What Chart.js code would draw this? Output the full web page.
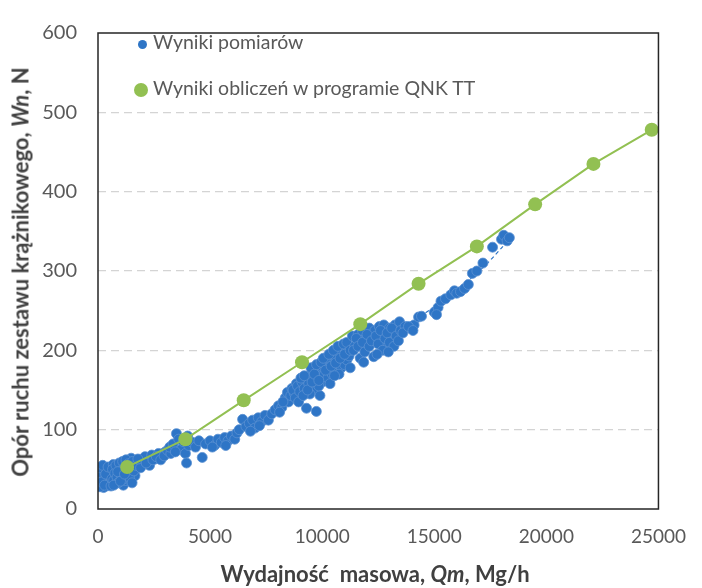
<!DOCTYPE html>
<html>
<head>
<meta charset="utf-8">
<script src="https://cdn.jsdelivr.net/npm/chart.js@4"></script>
<style>
    html, body { margin: 0; padding: 0; background: #fff; }
    #wrap { position: relative; width: 702px; height: 588px; font-family: Lato, "Liberation Sans", sans-serif; }
    #chart { position: absolute; left: 0; top: 0; }
    .legend { position: absolute; left: 134px; color: #595959; font-size: 19.5px; white-space: nowrap; }
    .legend .dot { display: inline-block; border-radius: 50%; vertical-align: middle; margin-right: 5px; }
    .ytitle { position: absolute; left: 20px; top: 272px; transform: translate(-50%, -50%) rotate(-90deg);
              font-weight: bold; font-size: 22px; color: #404040; white-space: nowrap; }
    .xtitle { position: absolute; left: 375px; top: 574px; transform: translate(-50%, -50%);
              font-weight: bold; font-size: 22px; line-height: 24px; color: #404040; white-space: nowrap; }
</style>
</head>
<body>
<div id="wrap">
    <canvas id="chart" width="702" height="588"></canvas>
    <div class="legend" style="top:30px;"><span class="dot" style="width:9px;height:9px;background:#2e75c6;margin-left:4px;margin-right:6px"></span>Wyniki pomiarów</div>
    <div class="legend" style="top:76px;"><span class="dot" style="width:14px;height:14px;background:#92c052"></span>Wyniki obliczeń w programie QNK TT</div>
    <div class="ytitle">Opór ruchu zestawu krążnikowego, <i>Wn</i>, N</div>
    <div class="xtitle">Wydajność&nbsp; masowa, <i>Qm</i>, Mg/h</div>
</div>
<script>
// measured points [Qm, Wn]
const measured = [
    [60,32],[80,38],[120,45],[150,30],[200,35],[220,42],[260,48],[300,33],[330,38],[350,52],
    [380,29],[400,44],[430,36],[460,40],[500,47],[520,31],[560,37],[600,43],[100,50],[250,27],
    [140,40],[310,45],[480,34],[40,42],[180,52],[20,36],[90,28],[270,39],[420,50],[540,41],
    [30,46],[70,52],[160,34],[210,55],[290,30],[340,44],[450,53],[580,29],[620,38],[680,56],
    [760,32],[820,49],[940,40],[1080,53],[1130,30],[1230,36],[1320,52],[1420,48],[1480,64],[1650,42],
    [650,50],[700,36],[750,45],[800,55],[850,40],[900,33],[950,58],[1000,48],[1050,42],[1100,60],
    [1150,38],[1200,52],[1250,62],[1300,45],[1350,57],[1400,40],[1450,55],[1520,33],[1550,60],[700,30],
    [1000,35],[1600,48],[880,47],[1180,44],
    [1700,55],[1850,62],[2000,58],[2100,66],[2250,60],[2400,68],[2550,63],[2700,70],[2850,67],[3000,72],
    [1900,52],[2300,55],[1780,63],[2150,58],[2450,62],[2600,66],[2800,62],[2950,67],[3100,74],[3250,70],
    [3200,78],[3350,82],[3500,95],[3600,88],[3700,75],[3800,85],[3900,70],[3950,58],[4050,80],[4200,84],
    [4350,78],[4500,86],[4650,65],[3450,72],[4000,92],
    [4800,82],[5000,86],[5200,80],[5350,88],[5500,84],[5650,90],[5800,86],[5950,92],[6100,88],[5100,78],
    [5700,80],[6200,96],
    [6300,100],[6450,113],[6600,104],[6750,108],[6900,112],[7000,102],[7150,115],[7300,110],[7450,118],[7600,112],
    [7750,120],[7900,125],[8050,130],[8200,128],[8350,140],[8500,135],[6800,98],[7200,105],[8100,122],[8450,147],
    [8250,135],[8600,143],[8650,152],[8750,146],[8850,158],[9000,140],
    [8700,150],[8800,140],[8900,155],[9000,148],[9100,160],[9200,152],[9300,127],[9300,165],[9400,158],[9500,170],
    [9600,150],[9700,163],[9740,123],[9800,175],[9900,143],[9900,168],[10000,160],[10050,178],[10100,170],[10200,182],
    [10250,165],[10300,175],[10400,188],[10450,170],[10500,180],[10600,192],[10650,175],[10700,185],[10800,197],[10850,178],
    [10900,190],[11000,182],[11050,198],[11100,188],[11200,193],[11250,178],[9050,165],[9600,178],[10150,190],[10350,158],
    [10750,170],[11150,205],[8950,135],[9450,145],[9150,143],[9850,155],[10550,168],
    [9200,168],[9350,150],[9500,178],[9550,160],[9650,170],[9750,182],[9850,162],[9950,185],
    [10050,190],[10150,175],[10300,195],[10400,180],[10500,200],[10600,184],[10700,205],[10800,190],[10950,208],[11000,195],
    [11100,210],[11250,200],[11350,218],[11450,205],[11600,220],[11700,212],[11800,225],[11950,210],
    [12100,228],[12250,215],[12350,225],[12550,230],[12650,212],[12750,232],[12850,205],[13000,228],[13150,215],[13250,232],[13450,236],
    [11400,200],[11520,215],[11600,205],[11700,190],[11800,210],[11900,198],[12000,220],[12100,205],[12200,212],[12300,192],
    [12400,218],[12500,208],[12600,225],[12700,200],[12800,215],[12900,222],[13000,210],[13100,228],[13200,205],[13300,218],
    [13400,212],[13500,225],[13700,230],[13900,228],[14100,232],[14300,242],[12450,195],[12950,198],[11850,185],
    [13600,222],[13850,230],[14050,225],[14430,243],[15000,248],[15170,254],[15300,262],[15500,265],[15740,270],[15900,275],
    [16000,272],[16170,274],[16350,278],[16520,283],[16700,297],[16900,300],[17170,310],[17600,330],[18000,340],[18100,345],
    [18250,338],[18350,342],[15100,245]
];

// QNK TT calculation results
const qnkQm = [1300, 3900, 6500, 9100, 11700, 14300, 16900, 19500, 22100, 24700];
const qnkWn = [53, 88, 137, 185, 233, 284, 331, 384, 435, 478];

const trendQm = [0, 2500, 5000, 7500, 10000, 12500, 15000, 17000, 18300];
const trendWn = [35, 58, 85, 118, 163, 210, 255, 300, 338];

const xMax = 25000, xStep = 5000;
const yMax = 600, yStep = 100;

const frame = {
    id: 'frame',
    afterDatasetsDraw(chart) {
        const { ctx, chartArea: a } = chart;
        ctx.save();
        ctx.strokeStyle = '#262626';
        ctx.lineWidth = 1.5;
        ctx.strokeRect(a.left, a.top, a.right - a.left, a.bottom - a.top);
        ctx.restore();
    }
};

new Chart(document.getElementById('chart'), {
    type: 'scatter',
    data: {
        datasets: [{
            label: 'Wyniki obliczeń w programie QNK TT',
            data: qnkQm.map((q, i) => ({ x: q, y: qnkWn[i] })),
            showLine: true,
            borderColor: '#92c052',
            backgroundColor: '#92c052',
            borderWidth: 2,
            pointRadius: 7,
            pointBorderWidth: 0
        }, {
            label: 'Wyniki pomiarów',
            data: measured.map(p => ({ x: p[0], y: p[1] })),
            backgroundColor: '#2e75c6',
            borderColor: '#5a90d2',
            pointBorderWidth: 0.8,
            pointRadius: 5
        }, {
            label: 'trend',
            data: trendQm.map((q, i) => ({ x: q, y: trendWn[i] })),
            showLine: true,
            borderColor: '#2e75c6',
            borderWidth: 1.2,
            borderDash: [4, 3],
            pointRadius: 0,
            tension: 0.4
        }]
    },
    options: {
        responsive: false,
        animation: false,
        layout: { padding: { left: 0, top: 23, right: 29, bottom: 0 } },
        plugins: { legend: { display: false }, tooltip: { enabled: false } },
        scales: {
            x: {
                min: 0, max: xMax,
                afterFit: s => { s.height = 79; },
                border: { display: false },
                grid: { display: false, drawTicks: false },
                ticks: { stepSize: xStep, padding: 16, color: '#595959', font: { family: 'Lato', size: 19 },
                         callback: v => String(v) }
            },
            y: {
                min: 0, max: yMax,
                afterFit: s => { s.width = 98; },
                border: { display: false, dash: [8, 5] },
                grid: {
                    drawTicks: false,
                    color: c => (c.tick && (c.tick.value === 0 || c.tick.value === yMax)) ? 'rgba(0,0,0,0)' : '#d4d4d4',
                    lineWidth: 1.3
                },
                ticks: { stepSize: yStep, padding: 21, color: '#595959', font: { family: 'Lato', size: 20 },
                         callback: v => String(v) }
            }
        }
    },
    plugins: [frame]
});
</script>
</body>
</html>
